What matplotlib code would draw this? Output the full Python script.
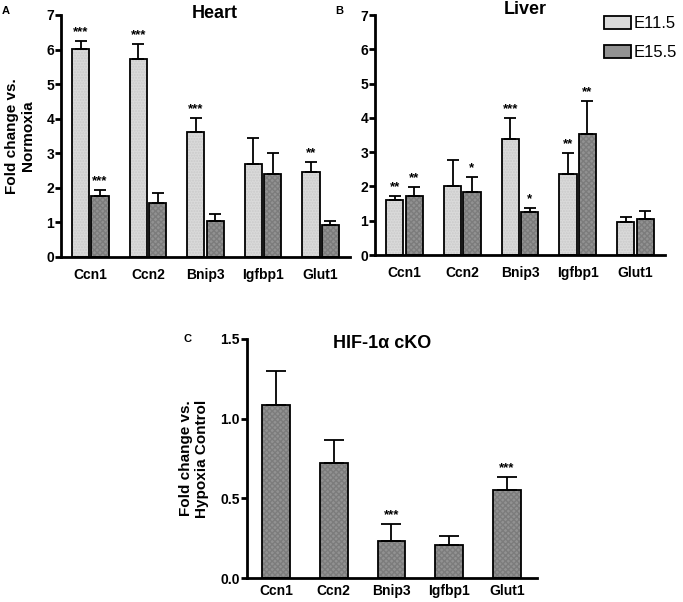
import matplotlib
matplotlib.use("Agg")
import matplotlib.pyplot as plt
import numpy as np
from matplotlib.patches import Patch

plt.rcParams['font.family'] = ['Liberation Sans', 'DejaVu Sans']

genes = ["Ccn1", "Ccn2", "Bnip3", "Igfbp1", "Glut1"]
series = ["E11.5", "E15.5"]

heart_e115 = [6.01, 5.73, 3.62, 2.68, 2.45]
heart_e115_err = [0.24, 0.43, 0.40, 0.77, 0.29]
heart_e155 = [1.76, 1.56, 1.05, 2.40, 0.94]
heart_e155_err = [0.19, 0.29, 0.19, 0.61, 0.10]
heart_e115_sig = ["***", "***", "***", "", "**"]
heart_e155_sig = ["***", "", "", "", ""]

liver_e115 = [1.60, 2.00, 3.39, 2.37, 0.95]
liver_e115_err = [0.11, 0.78, 0.61, 0.60, 0.15]
liver_e155 = [1.73, 1.85, 1.25, 3.53, 1.06]
liver_e155_err = [0.24, 0.42, 0.13, 0.96, 0.21]
liver_e115_sig = ["**", "", "***", "**", ""]
liver_e155_sig = ["**", "*", "*", "**", ""]

cko = [1.084, 0.724, 0.232, 0.207, 0.554]
cko_err = [0.216, 0.140, 0.109, 0.059, 0.080]
cko_sig = ["", "", "***", "", "***"]

light = "#dadada"
light_hatch = "#cacaca"
dark = "#929292"
dark_hatch = "#7c7c7c"

W, H = 683, 602
fig = plt.figure(figsize=(W / 100, H / 100), dpi=100)


def ax_at(x0, x1, ytop, ybot):
    return fig.add_axes([x0 / W, 1 - ybot / H, (x1 - x0) / W, (ybot - ytop) / H])


def style(ax, ylim, yticks, yfmt):
    for s in ["top", "right"]:
        ax.spines[s].set_visible(False)
    for s in ["left", "bottom"]:
        ax.spines[s].set_linewidth(2.0)
    ax.set_ylim(*ylim)
    ax.set_yticks(yticks)
    ax.set_yticklabels([yfmt.format(t) for t in yticks], fontsize=10, fontweight="bold")
    ax.tick_params(axis="y", direction="out", length=4, width=2.0, pad=1)
    ax.tick_params(axis="x", length=0, pad=8)
    ax.set_xticks(np.arange(len(genes)))
    ax.set_xticklabels(genes, fontsize=10, fontweight="bold")


def textured_bar(ax, xs, v, w, fc, hc, hatch):
    ax.bar(xs, v, width=w, color=fc, edgecolor=hc, hatch=hatch, linewidth=0, zorder=2)
    ax.bar(xs, v, width=w, color="none", edgecolor="black", linewidth=1.3, zorder=2.5)


def grouped(ax, v1, e1, s1, v2, e2, s2, ymax):
    x = np.arange(len(genes))
    w = 0.30
    off = 0.168
    for xs, v, e, s, c, hc, hatch in [(x - off, v1, e1, s1, light, light_hatch, "......"),
                                      (x + off, v2, e2, s2, dark, dark_hatch, "xxxxxx")]:
        textured_bar(ax, xs, v, w, c, hc, hatch)
        ax.errorbar(xs, v, yerr=[np.zeros(len(v)), e], fmt="none", ecolor="black",
                    elinewidth=1.3, capsize=4, capthick=1.3, zorder=3)
        for xi, vi, ei, si in zip(xs, v, e, s):
            if si:
                ax.text(xi, vi + ei + ymax * 0.012, si, ha="center", va="bottom",
                        fontsize=9.5, fontweight="bold")
    ax.set_xlim(-0.51, 4.51)


# Panel A
axA = ax_at(61, 350, 15, 257)
grouped(axA, heart_e115, heart_e115_err, heart_e115_sig,
        heart_e155, heart_e155_err, heart_e155_sig, 7)
style(axA, (0, 7), range(0, 8), "{}")
axA.set_ylabel("Fold change vs.\nNormoxia", fontsize=11, fontweight="bold", labelpad=8)
fig.text(215 / W, 1 - 14 / H, "Heart", ha="center", va="center", fontsize=13, fontweight="bold")
fig.text(2 / W, 1 - 11 / H, "A", ha="left", va="center", fontsize=8, fontweight="bold")

# Panel B
axB = ax_at(375, 665, 15, 255)
grouped(axB, liver_e115, liver_e115_err, liver_e115_sig,
        liver_e155, liver_e155_err, liver_e155_sig, 7)
style(axB, (0, 7), range(0, 8), "{}")
fig.text(525 / W, 1 - 10 / H, "Liver", ha="center", va="center", fontsize=13, fontweight="bold")
fig.text(335 / W, 1 - 11 / H, "B", ha="left", va="center", fontsize=8, fontweight="bold")
handles = [Patch(facecolor=light, edgecolor="black", linewidth=1.3, label=series[0]),
           Patch(facecolor=dark, edgecolor="black", linewidth=1.3, label=series[1])]
fig.legend(handles=handles, loc="upper left", bbox_to_anchor=(604 / W, 1 - 16 / H),
           frameon=False, fontsize=12, handlelength=1.6, handleheight=0.85,
           handletextpad=0.2, labelspacing=0.8, borderaxespad=0, borderpad=0)

# Panel C
axC = ax_at(247, 537, 339, 578)
x = np.arange(len(genes))
textured_bar(axC, x, cko, 0.48, dark, dark_hatch, "xxxxxx")
axC.errorbar(x, cko, yerr=[np.zeros(len(cko)), cko_err], fmt="none", ecolor="black",
             elinewidth=1.3, capsize=7, capthick=1.3, zorder=3)
for xi, vi, ei, si in zip(x, cko, cko_err, cko_sig):
    if si:
        axC.text(xi, vi + ei + 0.015, si, ha="center", va="bottom", fontsize=9.5, fontweight="bold")
axC.set_xlim(-0.5, 4.52)
style(axC, (0, 1.5), [0, 0.5, 1.0, 1.5], "{:.1f}")
axC.tick_params(axis="x", length=0, pad=4)
axC.set_ylabel("Fold change vs.\nHypoxia Control", fontsize=11, fontweight="bold", labelpad=8)
fig.text(382 / W, 1 - 343 / H, "HIF-1α cKO", ha="center", va="center", fontsize=13, fontweight="bold")
fig.text(183 / W, 1 - 339 / H, "C", ha="left", va="center", fontsize=8, fontweight="bold")

fig.savefig("out.png", dpi=100, facecolor="white")
